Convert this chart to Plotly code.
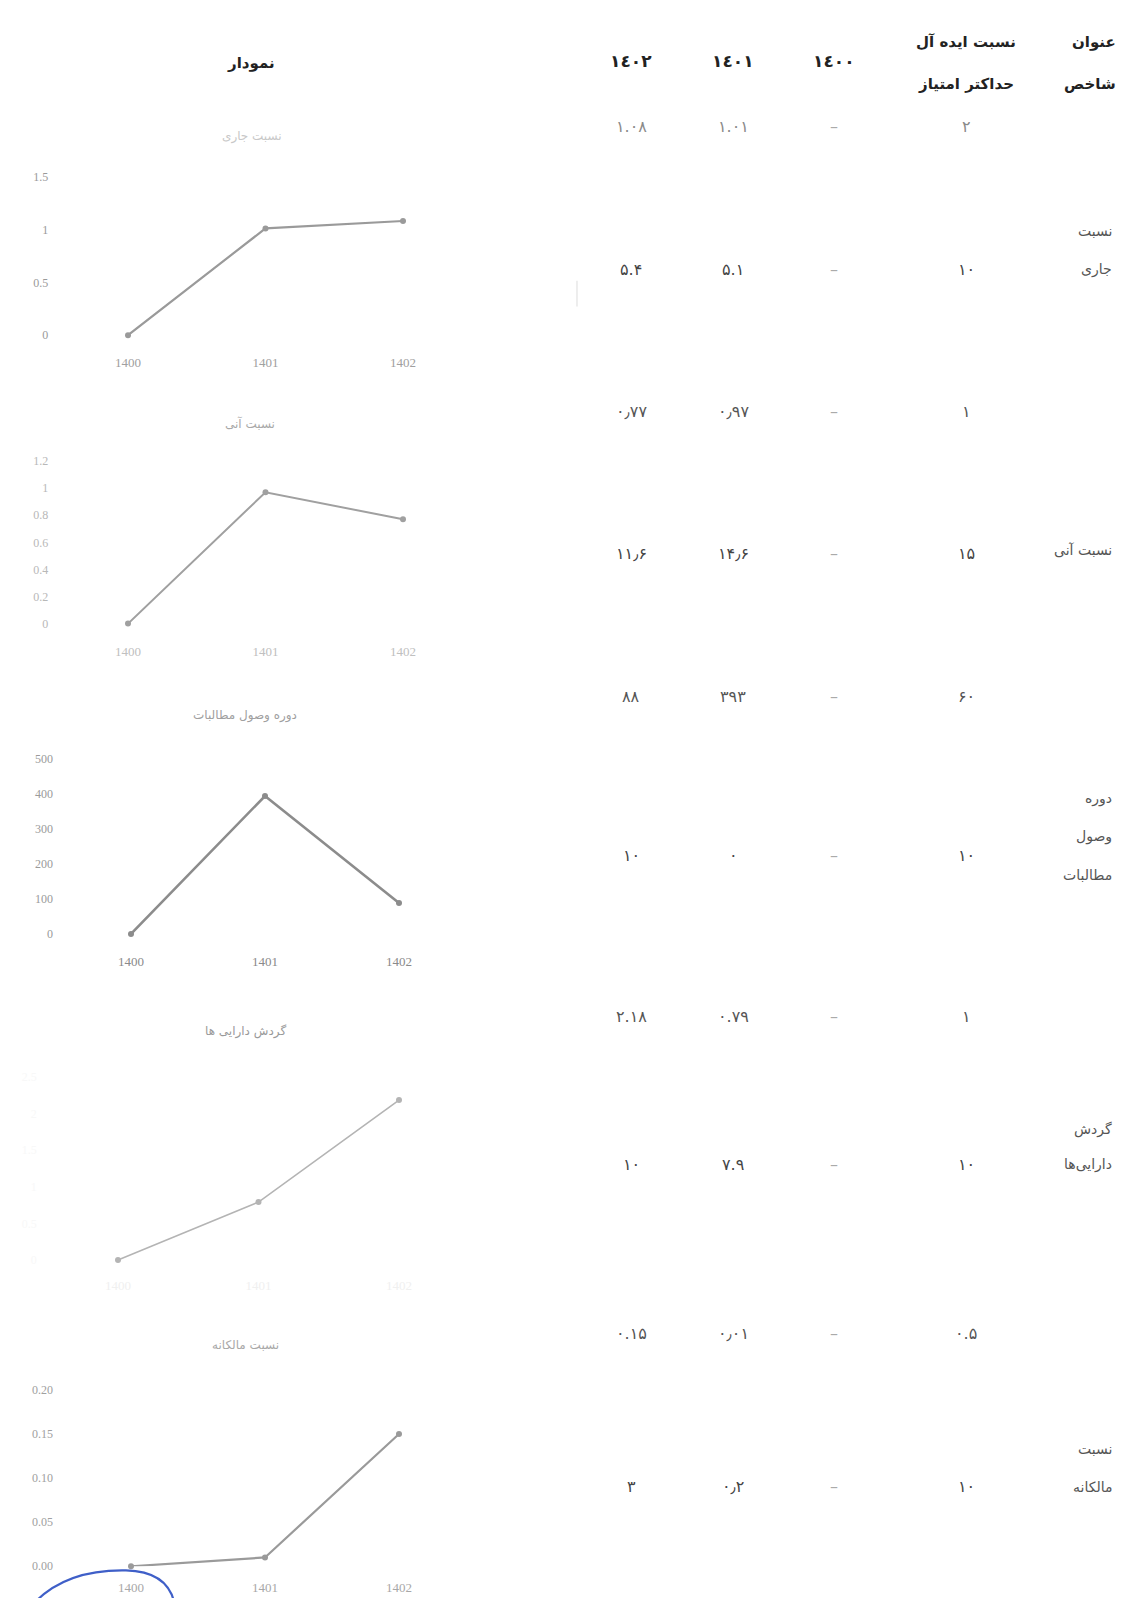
import plotly.graph_objects as go

# ---------------- data ----------------
years = ["1400", "1401", "1402"]
current_ratio = [0, 1.01, 1.08]
quick_ratio = [0, 0.97, 0.77]
collection_period = [0, 393, 88]
asset_turnover = [0, 0.79, 2.18]
equity_ratio = [0, 0.01, 0.15]

chart_titles = ["نسبت جاری", "نسبت آنی", "دوره وصول مطالبات", "گردش دارایی ها", "نسبت مالکانه"]

col_headers = ["۱٤۰۲", "۱٤۰۱", "۱٤۰۰"]
ideal_header = ["نسبت ایده آل", "حداکتر امتیاز"]
title_header = ["عنوان", "شاخص"]
chart_header = "نمودار"

row_labels = [
    ["نسبت", "جاری"],
    ["نسبت آنی"],
    ["دوره", "وصول", "مطالبات"],
    ["گردش", "دارایی‌ها"],
    ["نسبت", "مالکانه"],
]
# columns: 1402, 1401, 1400, ideal
ratio_values = [
    ["۱.۰۸", "۱.۰۱", "–", "۲"],
    ["۰٫۷۷", "۰٫۹۷", "–", "۱"],
    ["۸۸", "۳۹۳", "–", "۶۰"],
    ["۲.۱۸", "۰.۷۹", "–", "۱"],
    ["۰.۱۵", "۰٫۰۱", "–", "۰.۵"],
]
# columns: 1402, 1401, 1400, max score
score_values = [
    ["۵.۴", "۵.۱", "–", "۱۰"],
    ["۱۱٫۶", "۱۴٫۶", "–", "۱۵"],
    ["۱۰", "۰", "–", "۱۰"],
    ["۱۰", "۷.۹", "–", "۱۰"],
    ["۳", "۰٫۲", "–", "۱۰"],
]

series = [current_ratio, quick_ratio, collection_period, asset_turnover, equity_ratio]

# ---------------- layout helpers (pixel positions) ----------------
W, H = 1132, 1598
def fx(p):
    return p / W
def fy(p):
    return 1 - p / H

charts = [
    dict(x0=120, x2=395, y0=323, ytop=163, top=1.5, tv=[0, 0.5, 1, 1.5], fmt="", lc="#9a9a9a", lw=2.2, tc="#9a9a9a", ttl="#c8c8c8", xl="#a0a0a0", so=18),
    dict(x0=120, x2=395, y0=614, ytop=450, top=1.2, tv=[0, 0.2, 0.4, 0.6, 0.8, 1, 1.2], fmt="", lc="#a0a0a0", lw=2.0, tc="#b8b8b8", ttl="#a8a8a8", xl="#c0c0c0", so=18),
    dict(x0=123, x2=391, y0=927, ytop=750, top=500, tv=[0, 100, 200, 300, 400, 500], fmt="", lc="#8c8c8c", lw=2.6, tc="#9a9a9a", ttl="#a0a0a0", xl="#8a8a8a", so=18),
    dict(x0=110, x2=391, y0=1256, ytop=1071, top=2.5, tv=[0, 0.5, 1, 1.5, 2, 2.5], fmt="", lc="#b4b4b4", lw=1.6, tc="#f8f8f8", ttl="#9a9a9a", xl="#f0f0f0", so=16),
    dict(x0=123, x2=391, y0=1565, ytop=1387, top=0.2, tv=[0, 0.05, 0.1, 0.15, 0.2], fmt=".2f", lc="#9a9a9a", lw=2.2, tc="#a0a0a0", ttl="#a8a8a8", xl="#a8a8a8", so=12),
]
title_pos = [(244, 123), (242, 412), (237, 707), (237, 1025), (237, 1342)]

fig = go.Figure()
layout_axes = {}
for i, (c, ys) in enumerate(zip(charts, series), start=1):
    s = (c["x2"] - c["x0"]) / 2.0
    xd = [fx(c["x0"] - 0.5 * s), fx(c["x2"] + 0.5 * s)]
    yd = [fy(c["y0"]), fy(c["ytop"])]
    xa = "x" if i == 1 else f"x{i}"
    ya = "y" if i == 1 else f"y{i}"
    fig.add_trace(go.Scatter(
        x=years, y=ys, xaxis=xa, yaxis=ya, mode="lines+markers",
        line=dict(color=c["lc"], width=c["lw"]),
        marker=dict(size=6, color=c["lc"]),
        cliponaxis=False, showlegend=False, hoverinfo="skip",
    ))
    xk = "xaxis" if i == 1 else f"xaxis{i}"
    yk = "yaxis" if i == 1 else f"yaxis{i}"
    layout_axes[xk] = dict(
        domain=xd, anchor=ya, type="category", range=[-0.5, 2.5],
        showgrid=False, zeroline=False, showline=False, ticks="",
        tickfont=dict(family="Liberation Serif", size=13, color=c["xl"]),
        ticklabelstandoff=c["so"],
    )
    layout_axes[yk] = dict(
        domain=yd, anchor=xa, range=[0, c["top"]],
        tickvals=c["tv"], tickformat=c["fmt"],
        showgrid=False, zeroline=False, showline=False, ticks="",
        tickfont=dict(family="Liberation Serif", size=12, color=c["tc"]),
        ticklabelstandoff=10,
    )

fig.update_layout(**layout_axes)

ann = []
PERS = "DejaVu Sans"

def add_text(px, py, text, size, color, xanchor="center", bold=False):
    ann.append(dict(x=fx(px), y=fy(py), text=(f"<b>{text}</b>" if bold else text),
                    showarrow=False, xref="paper", yref="paper",
                    xanchor=xanchor, yanchor="middle",
                    font=dict(family=PERS, size=size, color=color)))

# chart titles
for t, (px, py), c in zip(chart_titles, title_pos, charts):
    add_text(px, py, t, 12, c["ttl"])

# header
add_text(243, 48, chart_header, 15, "#222222", bold=True)
col_x = [623, 725, 826, 958]
for h, cx in zip(col_headers, col_x[:3]):
    add_text(cx, 46, h, 17, "#222222", bold=True)
for line, py in zip(ideal_header, [27, 70]):
    add_text(958, py, line, 15, "#222222", bold=True)
for line, py in zip(title_header, [27, 70]):
    add_text(1110, py, line, 15, "#222222", xanchor="right", bold=True)

ratio_y = [112, 400, 688, 1010, 1330]
score_y = [257, 543, 848, 1160, 1485]
label_y = [[218, 257], [540], [790, 829, 868], [1124, 1160], [1447, 1485]]
ratio_colors = ["#8a8a8a", "#555555", "#555555", "#555555", "#555555"]

for r in range(5):
    for v, cx in zip(ratio_values[r], col_x):
        add_text(cx, ratio_y[r], v, 16, "#aaaaaa" if v == "–" else ratio_colors[r])
    for v, cx in zip(score_values[r], col_x):
        add_text(cx, score_y[r], v, 16, "#aaaaaa" if v == "–" else "#444444")
    for line, py in zip(row_labels[r], label_y[r]):
        add_text(1106, py, line, 14, "#555555", xanchor="right")

# hand-drawn blue circle mark (scan annotation) and a faint scan streak
path = "M {:.4f},{:.4f} Q {:.4f},{:.4f} {:.4f},{:.4f} Q {:.4f},{:.4f} {:.4f},{:.4f}".format(
    fx(28), fy(1600), fx(60), fy(1568), fx(118), fy(1569), fx(158), fy(1570), fx(166), fy(1600))
shapes = [
    dict(type="path", path=path, xref="paper", yref="paper",
         line=dict(color="#3f5fc8", width=2.2)),
    dict(type="line", xref="paper", yref="paper", x0=fx(569), x1=fx(569), y0=fy(268), y1=fy(294),
         line=dict(color="#e2e2e2", width=1.2)),
]

fig.update_layout(
    width=W, height=H, margin=dict(l=0, r=0, t=0, b=0),
    paper_bgcolor="white", plot_bgcolor="white",
    annotations=ann, shapes=shapes, showlegend=False,
)

fig.write_html("out.html")
